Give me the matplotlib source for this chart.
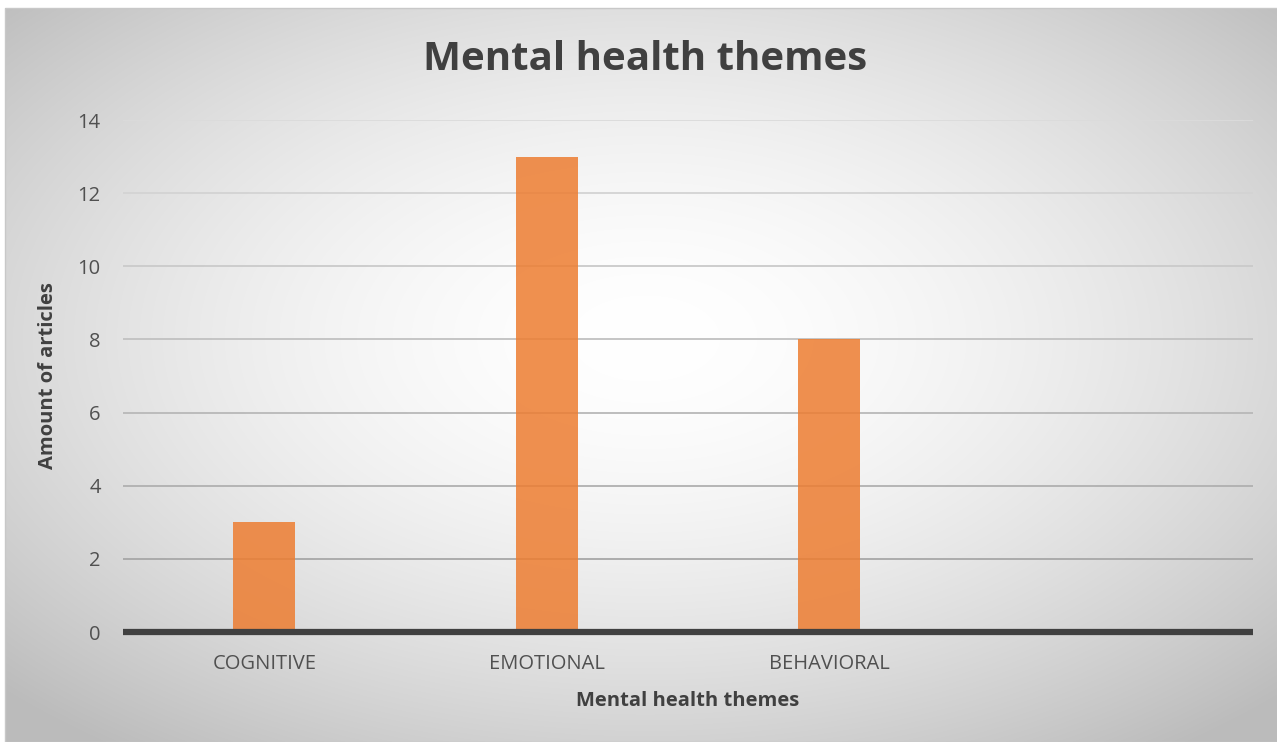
import matplotlib.pyplot as plt
import numpy as np

categories = ['COGNITIVE', 'EMOTIONAL', 'BEHAVIORAL', '']
values = [3, 13, 8, 0]
y_ticks = [0, 2, 4, 6, 8, 10, 12, 14]

plt.rcParams['font.family'] = ['Open Sans', 'DejaVu Sans']

fig = plt.figure(figsize=(12.77, 7.42), dpi=100)
fig.patch.set_facecolor('white')

# radial gradient background
W, H = 1272, 734
xx, yy = np.meshgrid(np.arange(W), np.arange(H))
cx, cy = 640, 330
r = np.sqrt(((xx - cx) / (W * 0.70)) ** 2 + ((yy - cy) / (H * 0.70)) ** 2)
shade = 255 - 68 * np.clip(r, 0, 1) ** 1.7
img = np.dstack([shade, shade, shade]).astype(np.uint8)
bg = fig.add_axes([5 / 1277, 0, 1 - 5 / 1277, 734 / 742], zorder=0)
bg.imshow(img, aspect='auto')
bg.axis('off')
fig.add_artist(plt.Rectangle((5 / 1277, 0), 1, 734 / 742, transform=fig.transFigure,
                             fill=False, edgecolor='#c8c8c8', linewidth=1, zorder=1))

ax = fig.add_axes([123 / 1277, 1 - 632 / 742, 1130 / 1277, 512 / 742], zorder=2)
ax.patch.set_alpha(0)

x = np.arange(len(categories))
ax.set_xlim(-0.5, len(categories) - 0.5)
ax.set_ylim(0, 14)

# gridlines, darker near the bottom
for t in y_ticks[1:]:
    g = 0.62 + 0.24 * t / 14
    ax.axhline(t, color=(g, g, g), linewidth=1.3, zorder=1)

ax.bar(x, values, width=0.22, color='#ED7D31', alpha=0.85, zorder=2)
ax.axhline(0, color='#404040', linewidth=4.5, zorder=3, clip_on=False, solid_capstyle='butt')

ax.set_yticks(y_ticks)
ax.set_xticks(x)
ax.set_xticklabels(categories)
ax.tick_params(axis='both', length=0, labelsize=14.5, colors='#505050')
ax.tick_params(axis='y', pad=16)
ax.tick_params(axis='x', pad=16)
for s in ax.spines.values():
    s.set_visible(False)

ax.set_xlabel('Mental health themes', fontsize=14.5, fontweight='bold', color='#404040', labelpad=12)
ax.set_ylabel('Amount of articles', fontsize=14.5, fontweight='bold', color='#404040', labelpad=14)

fig.text(645 / 1277, 1 - 60 / 742, 'Mental health themes', ha='center', va='center',
         fontsize=29, fontweight='bold', color='#404040')

fig.savefig('out.png', dpi=100)
